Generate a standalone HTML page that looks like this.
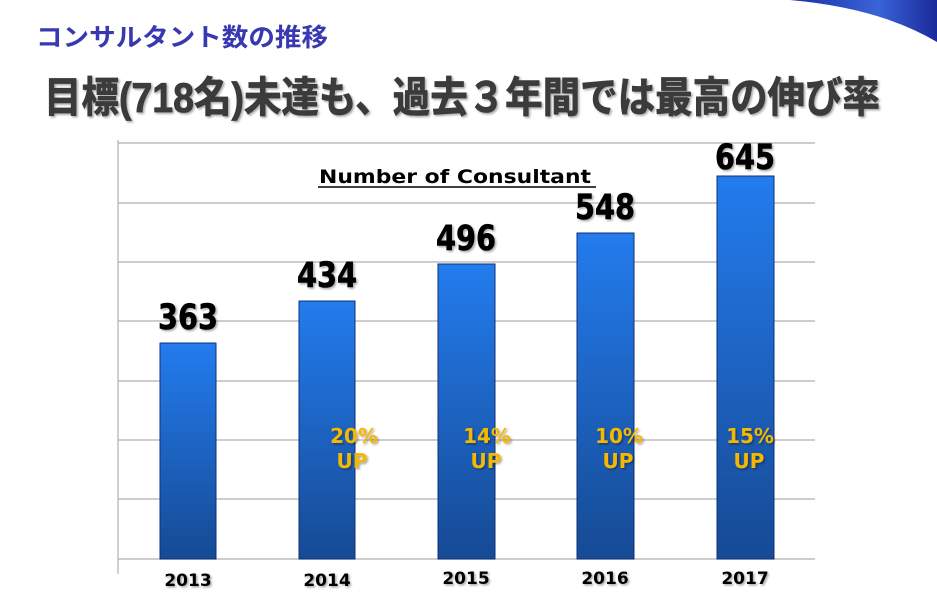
<!DOCTYPE html>
<html><head><meta charset="utf-8"><style>
html,body{margin:0;padding:0;background:#fff;width:937px;height:604px;overflow:hidden}
</style></head><body>
<svg width="937" height="604" xmlns="http://www.w3.org/2000/svg">
<defs>
<linearGradient id="bar" x1="0" y1="0" x2="0" y2="1">
<stop offset="0" stop-color="#237cee"/><stop offset="1" stop-color="#164a94"/>
</linearGradient>
<linearGradient id="deco" x1="0" y1="0" x2="1" y2="0">
<stop offset="0" stop-color="#1a2fa8"/><stop offset="0.6" stop-color="#3a63d8"/><stop offset="1" stop-color="#1a2a9a"/>
</linearGradient>
<filter id="sh" x="-10%" y="-10%" width="130%" height="130%"><feDropShadow dx="1.5" dy="1.5" stdDeviation="1" flood-color="#000" flood-opacity="0.35"/></filter>
</defs>
<path d="M790 0 L937 0 L937 42 Q880 8 790 0 Z" fill="url(#deco)"/>
<text x="36" y="46" font-family="Liberation Sans,'Noto Sans CJK JP',sans-serif" font-weight="bold" font-size="25" fill="#3838b0" textLength="292" lengthAdjust="spacingAndGlyphs">コンサルタント数の推移</text>
<text x="44" y="112" font-family="Liberation Sans,'Noto Sans CJK JP',sans-serif" font-weight="bold" font-size="42" fill="#3a3a3a" stroke="#3a3a3a" stroke-width="0.8" textLength="836" lengthAdjust="spacingAndGlyphs" filter="url(#sh)">目標(718名)未達も、過去３年間では最高の伸び率</text>
<g stroke="#b0b0b0" stroke-width="1.2">
<line x1="118" y1="143" x2="815" y2="143"/>
<line x1="118" y1="203" x2="815" y2="203"/>
<line x1="118" y1="262" x2="815" y2="262"/>
<line x1="118" y1="321" x2="815" y2="321"/>
<line x1="118" y1="381" x2="815" y2="381"/>
<line x1="118" y1="440" x2="815" y2="440"/>
<line x1="118" y1="499" x2="815" y2="499"/>
<line x1="118" y1="559" x2="815" y2="559"/>
<line x1="118" y1="140" x2="118" y2="574"/>
</g>
<g fill="url(#bar)" stroke="#0f2f7a" stroke-width="1">
<rect x="160" y="343" width="56" height="216"/>
<rect x="299" y="301" width="56" height="258"/>
<rect x="438" y="264" width="57" height="295"/>
<rect x="577" y="233" width="57" height="326"/>
<rect x="717" y="176" width="57" height="383"/>
</g>
<text x="455" y="183" text-anchor="middle" font-family="DejaVu Sans,sans-serif" font-weight="bold" font-size="19" fill="#000" textLength="272" lengthAdjust="spacingAndGlyphs">Number of Consultant</text>
<line x1="318" y1="187" x2="596" y2="187" stroke="#000" stroke-width="1.5"/>
<g font-family="DejaVu Sans,sans-serif" font-weight="bold" font-size="35" fill="#000" text-anchor="middle" stroke="#000" stroke-width="0.6" filter="url(#sh)">
<text x="188" y="329" textLength="60" lengthAdjust="spacingAndGlyphs">363</text>
<text x="327" y="287" textLength="60" lengthAdjust="spacingAndGlyphs">434</text>
<text x="466" y="250" textLength="60" lengthAdjust="spacingAndGlyphs">496</text>
<text x="605" y="219" textLength="60" lengthAdjust="spacingAndGlyphs">548</text>
<text x="745" y="169" textLength="60" lengthAdjust="spacingAndGlyphs">645</text>
</g>
<g font-family="DejaVu Sans,sans-serif" font-weight="bold" font-size="17" fill="#000" text-anchor="middle" filter="url(#sh)">
<text x="188" y="586">2013</text>
<text x="327" y="586">2014</text>
<text x="466" y="584">2015</text>
<text x="605" y="584">2016</text>
<text x="745" y="584">2017</text>
</g>
<g font-family="DejaVu Sans,sans-serif" font-weight="bold" font-size="20" fill="#f5b800" text-anchor="middle" filter="url(#sh)">
<text x="354" y="443">20%</text><text x="352" y="468">UP</text>
<text x="487" y="443">14%</text><text x="486" y="468">UP</text>
<text x="619" y="443">10%</text><text x="618" y="468">UP</text>
<text x="750" y="443">15%</text><text x="749" y="468">UP</text>
</g>
</svg>
</body></html>
